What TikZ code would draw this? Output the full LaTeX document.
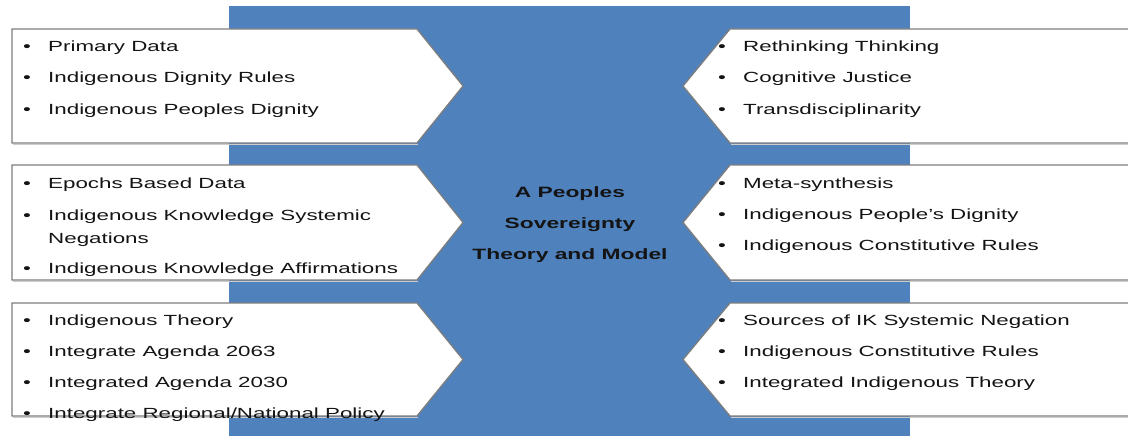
\documentclass[tikz,border=0pt]{standalone}
\usepackage{fontspec}
\setmainfont{Liberation Sans}[FakeStretch=1.52]
\definecolor{sheet}{RGB}{79,129,189}
\definecolor{rim}{RGB}{125,125,125}
\definecolor{rimshade}{RGB}{205,205,205}
\definecolor{ink}{RGB}{20,20,20}
\begin{document}
\begin{tikzpicture}[x=1pt,y=-1pt,
  panel/.style={draw=rim, line width=1.3pt, fill=white, line join=miter},
  shade/.style={draw=rimshade, line width=1.2pt},
  item/.style={anchor=base west, inner sep=0pt, text=ink,
    font=\fontsize{14.7}{17}\selectfont},
  dot/.style={anchor=base, inner sep=0pt, text=ink,
    font=\fontsize{14.7}{17}\selectfont},
  heading/.style={align=center, inner sep=0pt, text=ink,
    font=\bfseries\fontsize{15}{31}\selectfont}]
\path[use as bounding box] (0,0) rectangle (1128,436);
\clip (0,0) rectangle (1128,436);

% central blue band
\fill[sheet] (229,6) rectangle (910,440);

% left arrow panels (pointing right) and right arrow panels (pointing left)
\foreach \t/\b in {29/143, 165/280, 303/416}{
  \pgfmathsetmacro{\m}{(\t+\b)/2}
  \draw[shade] (13,\b+1.5) -- (418,\b+1.5);
  \draw[panel] (12,\t) -- (417,\t) -- (463,\m) -- (417,\b) -- (12,\b) -- cycle;
  \draw[shade] (1140,\b+1.5) -- (731,\b+1.5);
  \draw[panel] (1140,\t) -- (730,\t) -- (683,\m) -- (730,\b) -- (1140,\b) -- cycle;
}

% centre title
\node[heading] (title) at (570,225) {A Peoples\\Sovereignty\\Theory and Model};

% left column items
\foreach \y/\txt [count=\i] in {52/Primary Data, 83/Indigenous Dignity Rules,
    114/Indigenous Peoples Dignity}{
  \node[dot] (la-dot\i) at (27,\y) {•};
  \node[item] (la-\i) at (48,\y) {\txt};
}
\foreach \y/\txt [count=\i] in {188/Epochs Based Data,
    220/Indigenous Knowledge Systemic, 273/Indigenous Knowledge Affirmations}{
  \node[dot] (lb-dot\i) at (27,\y) {•};
  \node[item] (lb-\i) at (48,\y) {\txt};
}
\node[item] (lb-wrap) at (48,243) {Negations};
\foreach \y/\txt [count=\i] in {325/Indigenous Theory, 356/Integrate Agenda 2063,
    387/Integrated Agenda 2030, 418/{Integrate Regional/National Policy}}{
  \node[dot] (lc-dot\i) at (27,\y) {•};
  \node[item] (lc-\i) at (48,\y) {\txt};
}

% right column items
\foreach \y/\txt [count=\i] in {52/Rethinking Thinking, 83/Cognitive Justice,
    114/Transdisciplinarity}{
  \node[dot] (ra-dot\i) at (722,\y) {•};
  \node[item] (ra-\i) at (743,\y) {\txt};
}
\foreach \y/\txt [count=\i] in {188/Meta-synthesis, 219/Indigenous People’s Dignity,
    250/Indigenous Constitutive Rules}{
  \node[dot] (rb-dot\i) at (722,\y) {•};
  \node[item] (rb-\i) at (743,\y) {\txt};
}
\foreach \y/\txt [count=\i] in {325/Sources of IK Systemic Negation,
    356/Indigenous Constitutive Rules, 387/Integrated Indigenous Theory}{
  \node[dot] (rc-dot\i) at (722,\y) {•};
  \node[item] (rc-\i) at (743,\y) {\txt};
}
\end{tikzpicture}
\end{document}
